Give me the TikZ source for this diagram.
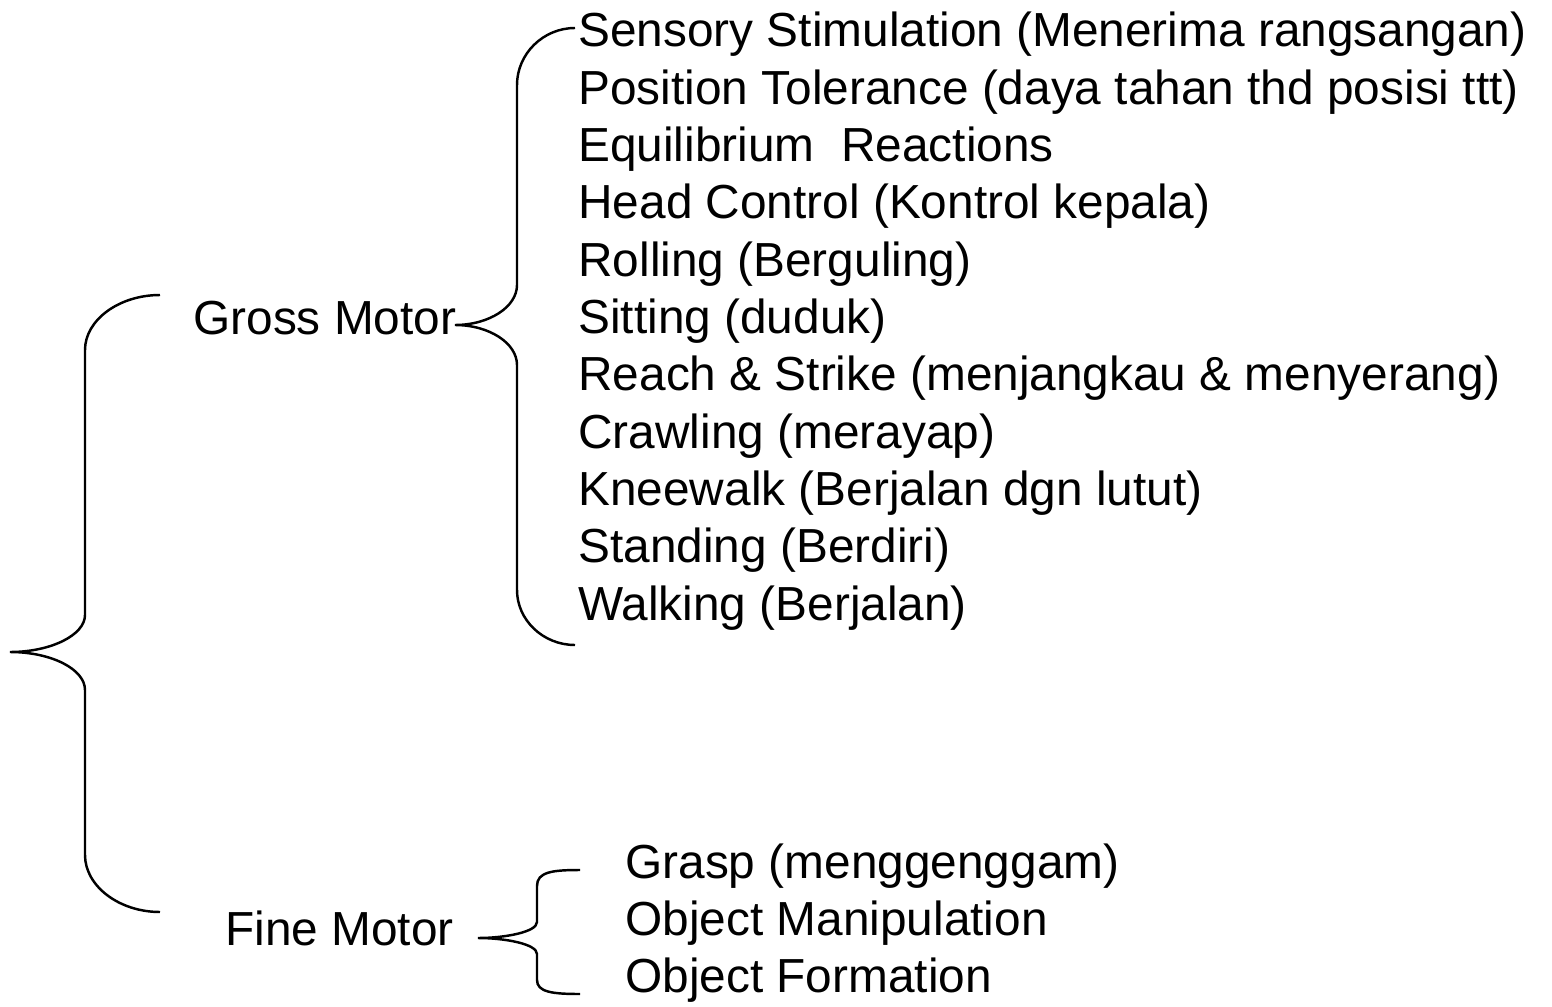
\documentclass[tikz,border=0pt]{standalone}
\usepackage{fontspec}
\setmainfont{Liberation Sans}
\usetikzlibrary{calc}

\begin{document}
\begin{tikzpicture}[x=0.02cm,y=-0.02cm,
	item/.style={anchor=base west,inner sep=0pt,font=\fontsize{27.2}{32}\selectfont},
	bracket/.style={line width=1.4pt,black}]
			\useasboundingbox (0,0) rectangle (1552,1007);
			\node (top) at (0,0) {};

			%gross motor list
			\node[item] (sensory) at ($(top)+(578,47)$) {Sensory Stimulation (Menerima rangsangan)};
			\node[item] (position) at ($(sensory.base west)+(0,57.3)$) {Position Tolerance (daya tahan thd posisi ttt)};
			\node[item] (equil) at ($(position.base west)+(0,57.3)$) {Equilibrium~~Reactions};
			\node[item] (head) at ($(equil.base west)+(0,57.3)$) {Head Control (Kontrol kepala)};
			\node[item] (rolling) at ($(head.base west)+(0,57.3)$) {Rolling (Berguling)};
			\node[item] (sitting) at ($(rolling.base west)+(0,57.3)$) {Sitting (duduk)};
			\node[item] (reach) at ($(sitting.base west)+(0,57.3)$) {Reach \& Strike (menjangkau \& menyerang)};
			\node[item] (crawling) at ($(reach.base west)+(0,57.3)$) {Crawling (merayap)};
			\node[item] (kneewalk) at ($(crawling.base west)+(0,57.3)$) {Kneewalk (Berjalan dgn lutut)};
			\node[item] (standing) at ($(kneewalk.base west)+(0,57.3)$) {Standing (Berdiri)};
			\node[item] (walking) at ($(standing.base west)+(0,57.3)$) {Walking (Berjalan)};

			%fine motor list
			\node[item] (grasp) at ($(top)+(625,878)$) {Grasp (menggenggam)};
			\node[item] (manip) at ($(grasp.base west)+(0,57)$) {Object Manipulation};
			\node[item] (formation) at ($(manip.base west)+(0,57)$) {Object Formation};

			\node[item] (gross) at ($(top)+(193,334)$) {Gross Motor};
			\node[item] (fine) at ($(top)+(225,945)$) {Fine Motor};

			%brace points
			\coordinate (m0) at (160,295);
			\coordinate (mtip) at (10,652);
			\coordinate (m1) at (160,912);
			\coordinate (g0) at (575,28);
			\coordinate (gtip) at (455,325);
			\coordinate (g1) at (575,645);
			\coordinate (f0) at (580,870);
			\coordinate (ftip) at (478,938);
			\coordinate (f1) at (580,994);

			\draw[bracket] (m0) .. controls (119,295) and (85,320) .. (85,350) -- (85,615)
				.. controls (85,635) and (51,652) .. (mtip)
				.. controls (51,652) and (85,669) .. (85,690) -- (85,855)
				.. controls (85,886) and (119,912) .. (m1);
			\draw[bracket] (g0) .. controls (543,28) and (517,54) .. (517,85) -- (517,285)
				.. controls (517,307) and (489,325) .. (gtip)
				.. controls (489,325) and (517,343) .. (517,365) -- (517,590)
				.. controls (517,620) and (543,645) .. (g1);
			\draw[bracket] (f0) .. controls (552,870) and (537,872) .. (537,886) -- (537,922)
				.. controls (537,932) and (505,938) .. (ftip)
				.. controls (505,938) and (537,944) .. (537,954) -- (537,980)
				.. controls (537,992) and (552,994) .. (f1);

		\end{tikzpicture}
\end{document}
